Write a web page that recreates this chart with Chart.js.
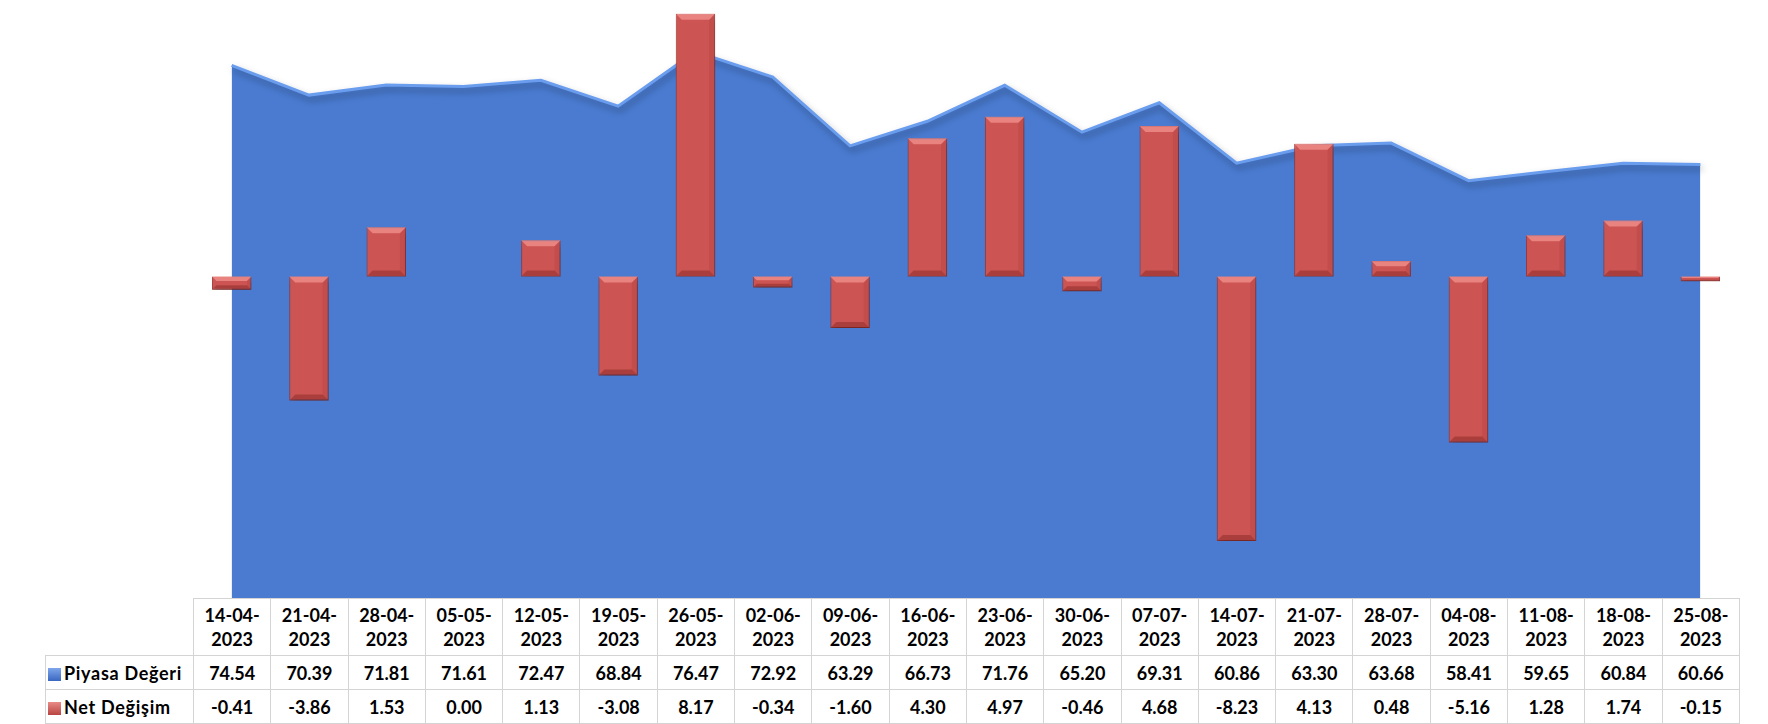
<!DOCTYPE html>
<html>
<head>
<meta charset="utf-8">
<script src="https://cdn.jsdelivr.net/npm/chart.js@4.4.0/dist/chart.umd.min.js"></script>
<style>
  body { margin: 0; background: #fff; width: 1768px; height: 724px; overflow: hidden; position: relative; font-family: Lato, "Noto Sans", sans-serif; }
  #wrap { position: absolute; left: 0; top: 0; width: 1768px; height: 598px; }
  table { position: absolute; left: 45px; top: 598px; border-collapse: collapse; table-layout: fixed; font-weight: bold; font-size: 18px; color: #000; }
  td { border: 1px solid #d4d4d4; text-align: center; padding: 0; }
  tr.head td { height: 56px; line-height: 24px; }
  tr.row td { height: 33px; }
  td.lab { text-align: left; padding-left: 2px; white-space: nowrap; letter-spacing: 0.7px; }
  td.blank { border-top: none; border-left: none; }
  .key { display: inline-block; width: 13px; height: 13px; margin-right: 3px; vertical-align: -1px; }
</style>
</head>
<body>
<div id="wrap"><canvas id="myChart"></canvas></div>
<table id="tbl"></table>
<script>
const labels = ['14-04-2023', '21-04-2023', '28-04-2023', '05-05-2023', '12-05-2023', '19-05-2023', '26-05-2023',
  '02-06-2023', '09-06-2023', '16-06-2023', '23-06-2023', '30-06-2023', '07-07-2023', '14-07-2023',
  '21-07-2023', '28-07-2023', '04-08-2023', '11-08-2023', '18-08-2023', '25-08-2023'];
const piyasa = [74.54, 70.39, 71.81, 71.61, 72.47, 68.84, 76.47, 72.92, 63.29, 66.73,
  71.76, 65.20, 69.31, 60.86, 63.30, 63.68, 58.41, 59.65, 60.84, 60.66];
const netDegisim = [-0.41, -3.86, 1.53, 0.00, 1.13, -3.08, 8.17, -0.34, -1.60, 4.30,
  4.97, -0.46, 4.68, -8.23, 4.13, 0.48, -5.16, 1.28, 1.74, -0.15];

// table under the chart
const tbl = document.getElementById('tbl');
let html = '<colgroup><col style="width:148px">';
labels.forEach(() => { html += '<col style="width:77.3px">'; });
html += '</colgroup><tr class="head"><td class="blank"></td>';
labels.forEach(l => { html += '<td>' + l.slice(0, 6) + '<br>' + l.slice(6) + '</td>'; });
html += '</tr><tr class="row"><td class="lab"><span class="key" style="background:linear-gradient(#7ea6ec,#3a68c0)"></span>Piyasa Değeri</td>';
piyasa.forEach(v => { html += '<td>' + v.toFixed(2) + '</td>'; });
html += '</tr><tr class="row"><td class="lab"><span class="key" style="background:linear-gradient(#e88a86,#b94542)"></span>Net Değişim</td>';
netDegisim.forEach(v => { html += '<td>' + v.toFixed(2) + '</td>'; });
html += '</tr>';
tbl.innerHTML = html;

// shadow + bevel on bars
const bevel = {
  id: 'bevel',
  beforeDatasetDraw(chart, args) {
    const ctx = chart.ctx;
    ctx.save();
    ctx.shadowColor = 'rgba(0,0,0,0.35)';
    ctx.shadowBlur = 7;
    ctx.shadowOffsetX = 2;
    ctx.shadowOffsetY = 4;
  },
  afterDatasetDraw(chart, args) {
    const ctx = chart.ctx;
    ctx.restore();
    if (args.meta.type !== 'bar') return;
    args.meta.data.forEach(bar => {
      const w = bar.width;
      const l = bar.x - w / 2, r = bar.x + w / 2;
      const t = Math.min(bar.y, bar.base), b = Math.max(bar.y, bar.base);
      const h = b - t;
      const s = Math.min(6, h / 3);
      if (h < 2) return;
      ctx.save();
      ctx.fillStyle = 'rgba(255,170,165,0.55)';
      ctx.beginPath();
      ctx.moveTo(l, t); ctx.lineTo(r, t); ctx.lineTo(r - s, t + s); ctx.lineTo(l + s, t + s); ctx.closePath();
      ctx.fill();
      ctx.fillStyle = 'rgba(120,30,28,0.4)';
      ctx.beginPath();
      ctx.moveTo(l, b); ctx.lineTo(r, b); ctx.lineTo(r - s, b - s); ctx.lineTo(l + s, b - s); ctx.closePath();
      ctx.fill();
      ctx.fillStyle = 'rgba(140,40,38,0.15)';
      ctx.beginPath();
      ctx.moveTo(r, t); ctx.lineTo(r, b); ctx.lineTo(r - s, b - s); ctx.lineTo(r - s, t + s); ctx.closePath();
      ctx.fill();
      ctx.restore();
    });
  }
};

const ctx = document.getElementById('myChart').getContext('2d');
const myChart = new Chart(ctx, {
  type: 'bar',
  data: {
    labels: labels,
    datasets: [{
      type: 'bar',
      label: 'Net Değişim',
      data: netDegisim,
      yAxisID: 'yNet',
      backgroundColor: '#cc5452',
      borderColor: '#a83e3c',
      borderWidth: 1,
      barPercentage: 0.51,
      categoryPercentage: 1,
      order: 1
    }, {
      type: 'line',
      label: 'Piyasa Değeri',
      data: piyasa,
      yAxisID: 'yPiyasa',
      backgroundColor: '#4a7bd0',
      borderColor: '#6a9ded',
      borderWidth: 3,
      fill: 'start',
      tension: 0,
      pointRadius: 0,
      order: 2
    }]
  },
  options: {
    responsive: true,
    maintainAspectRatio: false,
    animation: false,
    layout: { padding: { left: 193, right: 29, top: 0, bottom: 0 } },
    plugins: { legend: { display: false }, tooltip: { enabled: false } },
    scales: {
      x: { display: false, offset: true },
      yNet: { display: false, min: -10, max: 8.6 },
      yPiyasa: { display: false, min: 0, max: 83.7 }
    }
  },
  plugins: [bevel]
});
</script>
</body>
</html>
